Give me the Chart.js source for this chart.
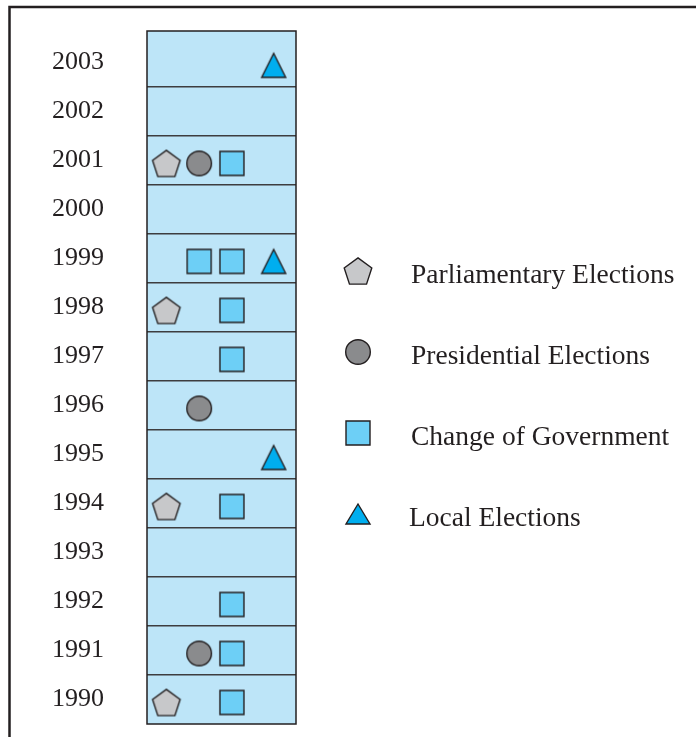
<!DOCTYPE html>
<html>
<head>
<meta charset="utf-8">
<script src="https://cdn.jsdelivr.net/npm/chart.js@4/dist/chart.umd.min.js"></script>
<style>
  html, body { margin: 0; padding: 0; background: #fff; }
  #wrap { position: relative; width: 696px; height: 737px; }
</style>
</head>
<body>
<div id="wrap"><canvas id="chart"></canvas></div>
<script>
// tick labels (one row per year)
const YEARS = [1990, 1991, 1992, 1993, 1994, 1995, 1996, 1997, 1998, 1999, 2000, 2001, 2002, 2003];

// events, by year
const parliamentary = [1990, 1994, 1998, 2001];
const presidential = [1991, 1996, 2001];
const government = [1990, 1991, 1992, 1994, 1997, 1998, 1999, 2001];
const governmentSecond = [1999];   // second change of government in the same year
const local = [1995, 1999, 2003];

const LABELS = ['Parliamentary Elections', 'Presidential Elections', 'Change of Government', 'Local Elections'];

// slot inside a row (x scale runs 0..10 across the column)
const SLOT = { parl: 1.3, pres: 3.5, gov: 5.7, local: 8.5 };

const INK = '#231f20';
const FONT = '"Liberation Serif", "Times New Roman", serif';
const FILLS = ['#c7c8ca', '#8a8b8d', '#6dcff6', '#00aeef'];
const SHAPES = ['pentagon', 'circle', 'square', 'triangle'];

// dy moves the shape down inside its image (markers sit a bit low in their rows)
function marker(shape, fill, dy, flatTriangle) {
  const c = document.createElement('canvas');
  c.width = 32; c.height = 32 + 2 * dy;
  const g = c.getContext('2d');
  const cx = 16, cy = c.height / 2 + dy;
  g.beginPath();
  if (shape === 'pentagon') {
    const R = 14.5;
    const off = R * (1 - Math.cos(Math.PI / 5)) / 2;
    for (let k = 0; k < 5; k++) {
      const a = -Math.PI / 2 + k * 2 * Math.PI / 5;
      const px = cx + R * Math.cos(a), py = cy + off + R * Math.sin(a);
      if (k) g.lineTo(px, py); else g.moveTo(px, py);
    }
    g.closePath();
  } else if (shape === 'circle') {
    g.arc(cx, cy, 12.3, 0, Math.PI * 2);
  } else if (shape === 'square') {
    g.rect(cx - 12, cy - 12, 24, 24);
  } else {
    const h = flatTriangle ? 10 : 12;
    g.moveTo(cx, cy - h);
    g.lineTo(cx + 12, cy + h);
    g.lineTo(cx - 12, cy + h);
    g.closePath();
  }
  g.fillStyle = fill;
  g.fill();
  g.lineWidth = 1.4;
  g.strokeStyle = INK;
  g.stroke();
  return c;
}

const markers = SHAPES.map((s, i) => marker(s, FILLS[i], 3, false));
const legendMarkers = SHAPES.map((s, i) => marker(s, FILLS[i], 0, true));

function pts(years, slot) {
  return years.map(y => ({ x: slot, y: y }));
}

// half-year ticks carry the row separators, whole years carry the labels
const yTicks = [];
YEARS.forEach(y => {
  yTicks.push({ value: y });
  if (y < YEARS[YEARS.length - 1]) yTicks.push({ value: y + 0.5 });
});

const framePlugin = {
  id: 'frame',
  beforeDraw(chart) {
    const ctx = chart.ctx;
    const a = chart.chartArea;
    ctx.save();
    ctx.fillStyle = '#fff';
    ctx.fillRect(0, 0, chart.width, chart.height);
    // outer frame, top and left only
    ctx.strokeStyle = INK;
    ctx.lineWidth = 2.5;
    ctx.beginPath();
    ctx.moveTo(chart.width, 7);
    ctx.lineTo(9.5, 7);
    ctx.lineTo(9.5, chart.height);
    ctx.stroke();
    ctx.fillStyle = '#bde5f8';
    ctx.fillRect(a.left, a.top, a.right - a.left, a.bottom - a.top);
    ctx.restore();
  },
  beforeDatasetsDraw(chart) {
    const ctx = chart.ctx;
    const a = chart.chartArea;
    ctx.save();
    ctx.strokeStyle = INK;
    ctx.lineWidth = 1.5;
    ctx.strokeRect(a.left, a.top, a.right - a.left, a.bottom - a.top);
    ctx.restore();
  },
  afterDraw(chart) {
    // legend to the right of the column
    const ctx = chart.ctx;
    ctx.save();
    ctx.font = '27.5px ' + FONT;
    ctx.fillStyle = INK;
    ctx.textBaseline = 'alphabetic';
    ctx.textAlign = 'left';
    chart.data.datasets.forEach((ds, i) => {
      const y = 271 + i * 81;
      const img = legendMarkers[i];
      ctx.drawImage(img, 358 - img.width / 2, y - img.height / 2);
      ctx.fillText(ds.label, i === 3 ? 409 : 411, y + 12);
    });
    ctx.restore();
  }
};

const config = {
  type: 'scatter',
  data: {
    datasets: [
      { label: LABELS[0], data: pts(parliamentary, SLOT.parl), pointStyle: markers[0] },
      { label: LABELS[1], data: pts(presidential, SLOT.pres), pointStyle: markers[1] },
      { label: LABELS[2], data: pts(government, SLOT.gov).concat(pts(governmentSecond, SLOT.pres)), pointStyle: markers[2] },
      { label: LABELS[3], data: pts(local, SLOT.local), pointStyle: markers[3] }
    ]
  },
  options: {
    responsive: true,
    maintainAspectRatio: false,
    animation: false,
    layout: { autoPadding: false, padding: { top: 31, bottom: 13, left: 0, right: 400 } },
    elements: { point: { radius: 12, hoverRadius: 12 } },
    plugins: {
      legend: { display: false },
      tooltip: { enabled: false }
    },
    scales: {
      x: { type: 'linear', min: 0, max: 10, display: false },
      y: {
        type: 'linear',
        min: 1989.5,
        max: 2003.64,
        afterBuildTicks: axis => { axis.ticks = yTicks.map(t => ({ value: t.value })); },
        afterFit: axis => {
          axis.width = 147;
          axis.paddingTop = 0;
          axis.paddingBottom = 0;
        },
        border: { display: false },
        grid: {
          drawTicks: false,
          lineWidth: 1.5,
          color: c => Number.isInteger(c.tick.value) ? 'rgba(0,0,0,0)' : '#3d3d3f'
        },
        ticks: {
          autoSkip: false,
          padding: 43,
          color: INK,
          font: { family: FONT, size: 26 },
          callback: v => Number.isInteger(v) ? String(v) : ''
        }
      }
    }
  },
  plugins: [framePlugin]
};

new Chart(document.getElementById('chart').getContext('2d'), config);
</script>
</body>
</html>
